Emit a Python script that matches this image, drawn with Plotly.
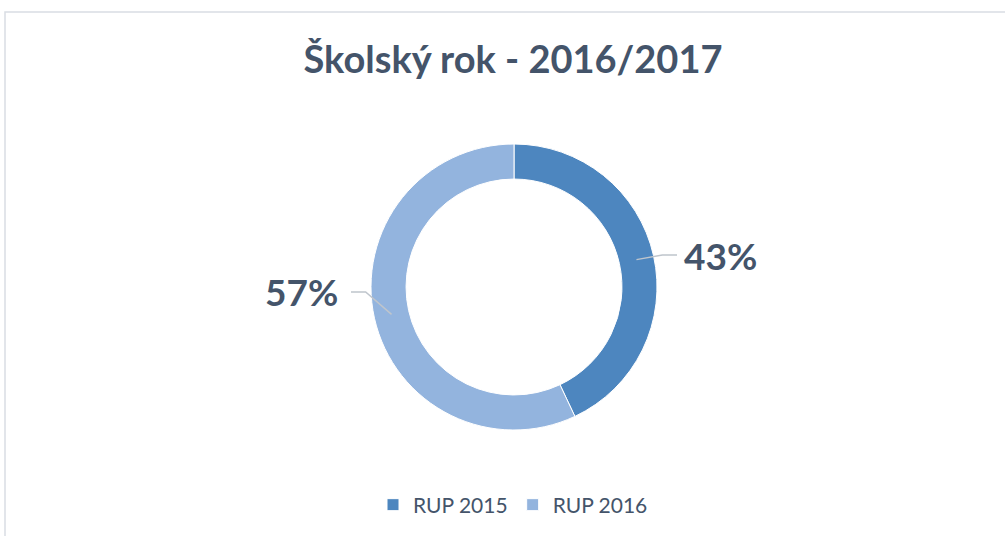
import math
import plotly.graph_objects as go

categories = ["RUP 2015", "RUP 2016"]
values = [43, 57]
colors = ["#4d86bf", "#93b4de"]
title_text = "Školský rok - 2016/2017"

W, H = 1005, 536
cx, cy, R = 514, 287, 143
hole = 0.755

def px(x):
    return x / W

def py(y):
    return 1 - y / H

fig = go.Figure()
fig.add_trace(go.Pie(
    labels=categories,
    values=values,
    hole=hole,
    sort=False,
    direction="clockwise",
    rotation=0,
    marker=dict(colors=colors, line=dict(color="white", width=1)),
    textinfo="none",
    hoverinfo="label+percent",
    domain=dict(x=[px(cx - R), px(cx + R)], y=[py(cy + R), py(cy - R)]),
    showlegend=True,
))

# data labels with leader lines, positioned from slice mid-angles
total = sum(values)
nudges = {0: 4, 1: -31}
shapes = []
annotations = []
cum = 0
for i, v in enumerate(values):
    theta = (cum + v / 2) / total * 2 * math.pi
    cum += v
    dx, dy = math.sin(theta), -math.cos(theta)
    r_mid = R * (1 + hole) / 2
    sx, sy = cx + dx * r_mid, cy + dy * r_mid
    side = 1 if dx >= 0 else -1
    ly = cy + dy * 165 + nudges.get(i, 0)
    ex = cx + dx * 152
    hx = cx + side * 163
    shapes.append(dict(
        type="path", xref="paper", yref="paper",
        path=f"M {px(sx)} {py(sy)} L {px(ex)} {py(ly)} L {px(hx)} {py(ly)}",
        line=dict(color="#bfc5cc", width=1.5),
    ))
    pct = round(v / total * 100)
    annotations.append(dict(
        x=px(cx + side * (168 if side > 0 else 174)), y=py(ly), xref="paper", yref="paper",
        text=f"<b>{pct}%</b>", showarrow=False,
        xanchor="left" if side > 0 else "right", yanchor="middle",
        font=dict(family="Lato", size=37, color="#44546a"),
    ))

# chart area border
shapes.append(dict(
    type="rect", xref="paper", yref="paper",
    x0=px(5), x1=1.02, y0=-0.02, y1=py(12),
    line=dict(color="#d9dde3", width=1.5), fillcolor="rgba(0,0,0,0)", layer="below",
))

fig.update_layout(
    width=W, height=H,
    margin=dict(l=0, r=0, t=0, b=0),
    paper_bgcolor="white", plot_bgcolor="white",
    title=dict(text=f"<b>{title_text}</b>", x=px(513), xanchor="center",
               y=py(60), yanchor="middle",
               font=dict(family="Lato", size=38, color="#44546a")),
    legend=dict(orientation="h", x=px(513), xanchor="center", y=py(505), yanchor="middle",
                font=dict(family="Lato", size=21, color="#44546a"),
                itemwidth=30),
    shapes=shapes,
    annotations=annotations,
)

fig.write_html("out.html", config={"displayModeBar": False},
               post_script="document.body.style.margin='0';document.body.style.overflow='hidden';")
